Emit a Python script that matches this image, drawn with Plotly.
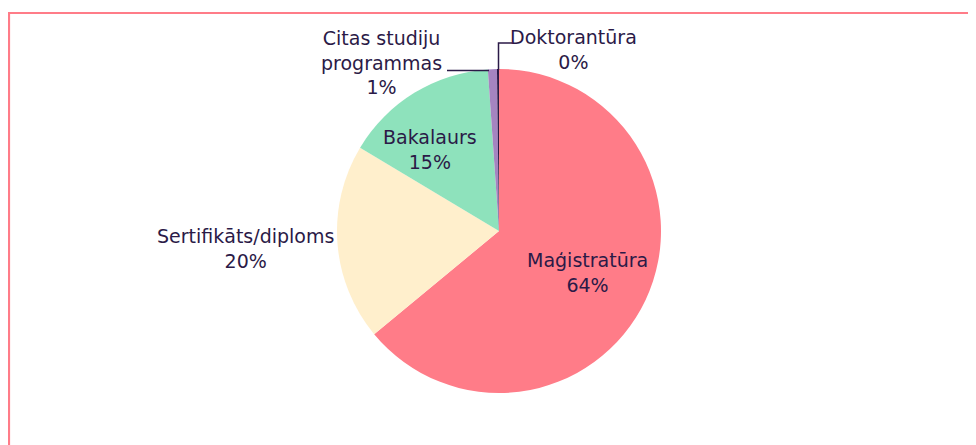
import plotly.graph_objects as go

# ---- data ----
categories = ["Maģistratūra", "Sertifikāts/diploms", "Bakalaurs", "Citas studiju programmas", "Doktorantūra"]
values = [64.0, 19.6, 15.3, 0.9, 0.2]
colors = ["#ff7c88", "#ffefcc", "#8ee2bc", "#a584c0", "#2b1a47"]
label_lines = [["Maģistratūra"], ["Sertifikāts/diploms"], ["Bakalaurs"], ["Citas studiju", "programmas"], ["Doktorantūra"]]

W, H = 976, 445
OFF = 8  # page body margin
TEXT = "#2b1a47"
FONT = "DejaVu Sans"

# pie geometry (screen pixels)
cx, cy, r = 499, 231, 162

def px(x):
    return (x - OFF) / W

def py(y):
    return 1 - (y - OFF) / H

total = sum(values)
pct = [f"{round(v / total * 100):.0f}%" for v in values]

fig = go.Figure(go.Pie(
    labels=categories,
    values=values,
    sort=False,
    direction="clockwise",
    rotation=0,
    marker=dict(colors=colors, line=dict(width=0)),
    textinfo="none",
    hoverinfo="label+percent",
    showlegend=False,
    domain=dict(x=[px(cx - r), px(cx + r)], y=[py(cy + r), py(cy - r)]),
))

# label placement (screen pixel centres of the text blocks)
label_pos = [(587, 272), (245, 248), (430, 149), (381, 63), (573, 50)]

annotations = []
for lines, p, (x, y) in zip(label_lines, pct, label_pos):
    annotations.append(dict(
        x=px(x), y=py(y), xref="paper", yref="paper",
        text="<br>".join(lines + [p]), showarrow=False,
        xanchor="center", yanchor="middle", align="center",
        font=dict(family=FONT, size=19, color=TEXT),
    ))

shapes = [
    # outer border (left/top visible)
    dict(type="rect", xref="paper", yref="paper",
         x0=px(9), y0=py(13), x1=px(W + 20), y1=py(H + 20),
         line=dict(color="#ff7c88", width=2.2), fillcolor="rgba(0,0,0,0)", layer="below"),
    # leader line for Citas studiju programmas
    dict(type="path", xref="paper", yref="paper",
         path=f"M {px(447)},{py(70.5)} L {px(489)},{py(70.5)}",
         line=dict(color=TEXT, width=1.5)),
    # leader line for Doktorantūra
    dict(type="path", xref="paper", yref="paper",
         path=f"M {px(498.5)},{py(70)} L {px(498.5)},{py(43)} L {px(512)},{py(43)}",
         line=dict(color=TEXT, width=1.5)),
]

fig.update_layout(
    width=W, height=H,
    margin=dict(l=0, r=0, t=0, b=0),
    paper_bgcolor="white", plot_bgcolor="white",
    annotations=annotations, shapes=shapes,
    font=dict(family=FONT, color=TEXT),
)

fig.write_html("out.html")
